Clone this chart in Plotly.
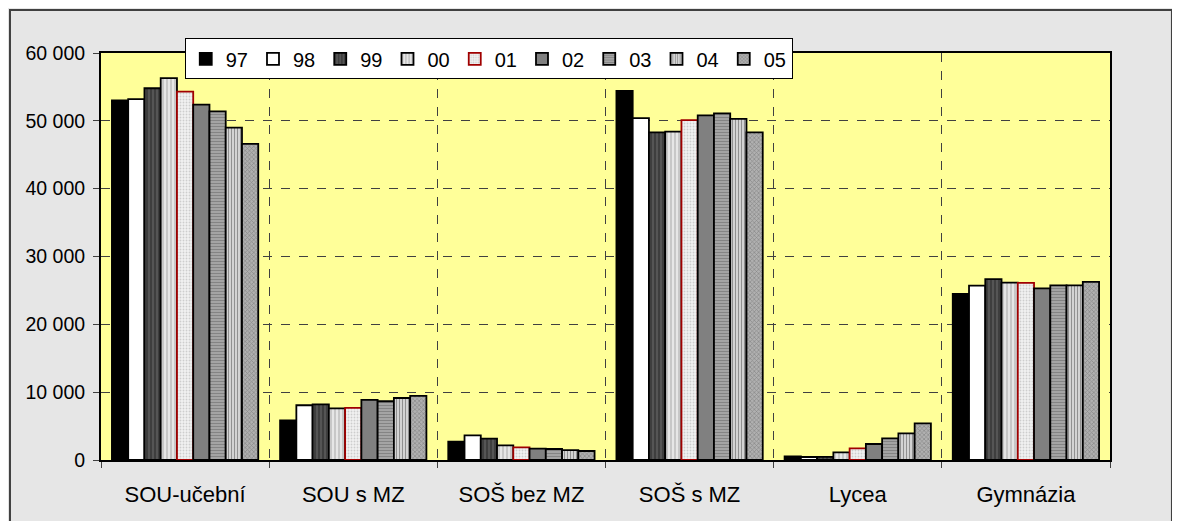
import plotly.graph_objects as go

categories = ["SOU-učební", "SOU s MZ", "SOŠ bez MZ", "SOŠ s MZ", "Lycea", "Gymnázia"]
years = ["97", "98", "99", "00", "01", "02", "03", "04", "05"]

s97 = [53000, 5850, 2700, 54400, 540, 24500]
s98 = [53200, 8070, 3640, 50400, 440, 25700]
s99 = [54800, 8200, 3150, 48300, 470, 26650]
s00 = [56300, 7600, 2160, 48400, 1130, 26150]
s01 = [54300, 7670, 1870, 50100, 1720, 26100]
s02 = [52400, 8850, 1670, 50800, 2360, 25300]
s03 = [51400, 8660, 1620, 51100, 3200, 25750]
s04 = [49000, 9140, 1470, 50300, 3930, 25750]
s05 = [46600, 9440, 1330, 48300, 5410, 26250]
series = [s97, s98, s99, s00, s01, s02, s03, s04, s05]

y_ticks = [0, 10000, 20000, 30000, 40000, 50000, 60000]
y_tick_labels = ["0", "10 000", "20 000", "30 000", "40 000", "50 000", "60 000"]

styles = [
    dict(color="#000000", pattern=dict(shape="")),
    dict(color="#FFFFFF", pattern=dict(shape="")),
    dict(color="#404040", pattern=dict(shape="|", fgcolor="#1A1A1A", bgcolor="#555555", size=4, solidity=0.4)),
    dict(color="#D0D0D0", pattern=dict(shape="|", fgcolor="#999999", bgcolor="#E6E6E6", size=4, solidity=0.4)),
    dict(color="#E8E8E8", pattern=dict(shape=".", fgcolor="#A8A8A8", bgcolor="#F2F2F2", size=3, solidity=0.3)),
    dict(color="#808080", pattern=dict(shape="")),
    dict(color="#909090", pattern=dict(shape="-", fgcolor="#606060", bgcolor="#A8A8A8", size=3, solidity=0.4)),
    dict(color="#B0B0B0", pattern=dict(shape="|", fgcolor="#404040", bgcolor="#E0E0E0", size=3, solidity=0.45)),
    dict(color="#909090", pattern=dict(shape="x", fgcolor="#606060", bgcolor="#B0B0B0", size=3, solidity=0.4)),
]
edge_colors = ["#000000"] * 9
edge_colors[4] = "#A00000"

fig = go.Figure()
for name, vals, st, ec in zip(years, series, styles, edge_colors):
    fig.add_trace(go.Bar(
        x=categories, y=vals, name=name,
        marker=dict(color=st["color"], pattern=st["pattern"],
                    line=dict(color=ec, width=1.8)),
    ))

# page body adds an 8px offset; margins compensate so the plot sits at 101..1110 x 53..460
fig.update_layout(
    barmode="group",
    bargap=0.13,
    bargroupgap=0,
    width=1180, height=521,
    margin=dict(l=93, r=78, t=45, b=69),
    paper_bgcolor="#E6E6E6",
    plot_bgcolor="#FFFF99",
    font=dict(family="Liberation Sans, Arial, sans-serif", size=19, color="#000000"),
    legend=dict(
        orientation="h",
        x=0.083, xanchor="left",
        y=1.036, yanchor="top",
        bgcolor="#FFFFFF",
        bordercolor="#000000", borderwidth=1,
        font=dict(size=20),
        itemwidth=30,
        tracegroupgap=0,
    ),
    xaxis=dict(
        type="category",
        tickson="boundaries",
        showgrid=True, gridcolor="#404040", griddash="dash", gridwidth=1,
        showline=True, linecolor="#000000", linewidth=2, mirror=True,
        ticks="outside", ticklen=6, tickcolor="#404040",
        ticklabelstandoff=14,
        tickfont=dict(size=22),
    ),
    yaxis=dict(
        range=[0, 60000],
        tickvals=y_ticks, ticktext=y_tick_labels,
        showgrid=True, gridcolor="#404040", griddash="dash", gridwidth=1,
        showline=True, linecolor="#000000", linewidth=2, mirror=True,
        ticks="outside", ticklen=6, tickcolor="#404040",
        ticklabelstandoff=4,
        tickfont=dict(size=19.5),
        zeroline=False,
    ),
    shapes=[dict(type="rect", xref="paper", yref="paper",
                 x0=-0.0902, x1=1.0614, y0=-0.3, y1=1.1057,
                 line=dict(color="#404040", width=2), fillcolor="rgba(0,0,0,0)",
                 layer="below")],
)

fig.write_html("out.html")
